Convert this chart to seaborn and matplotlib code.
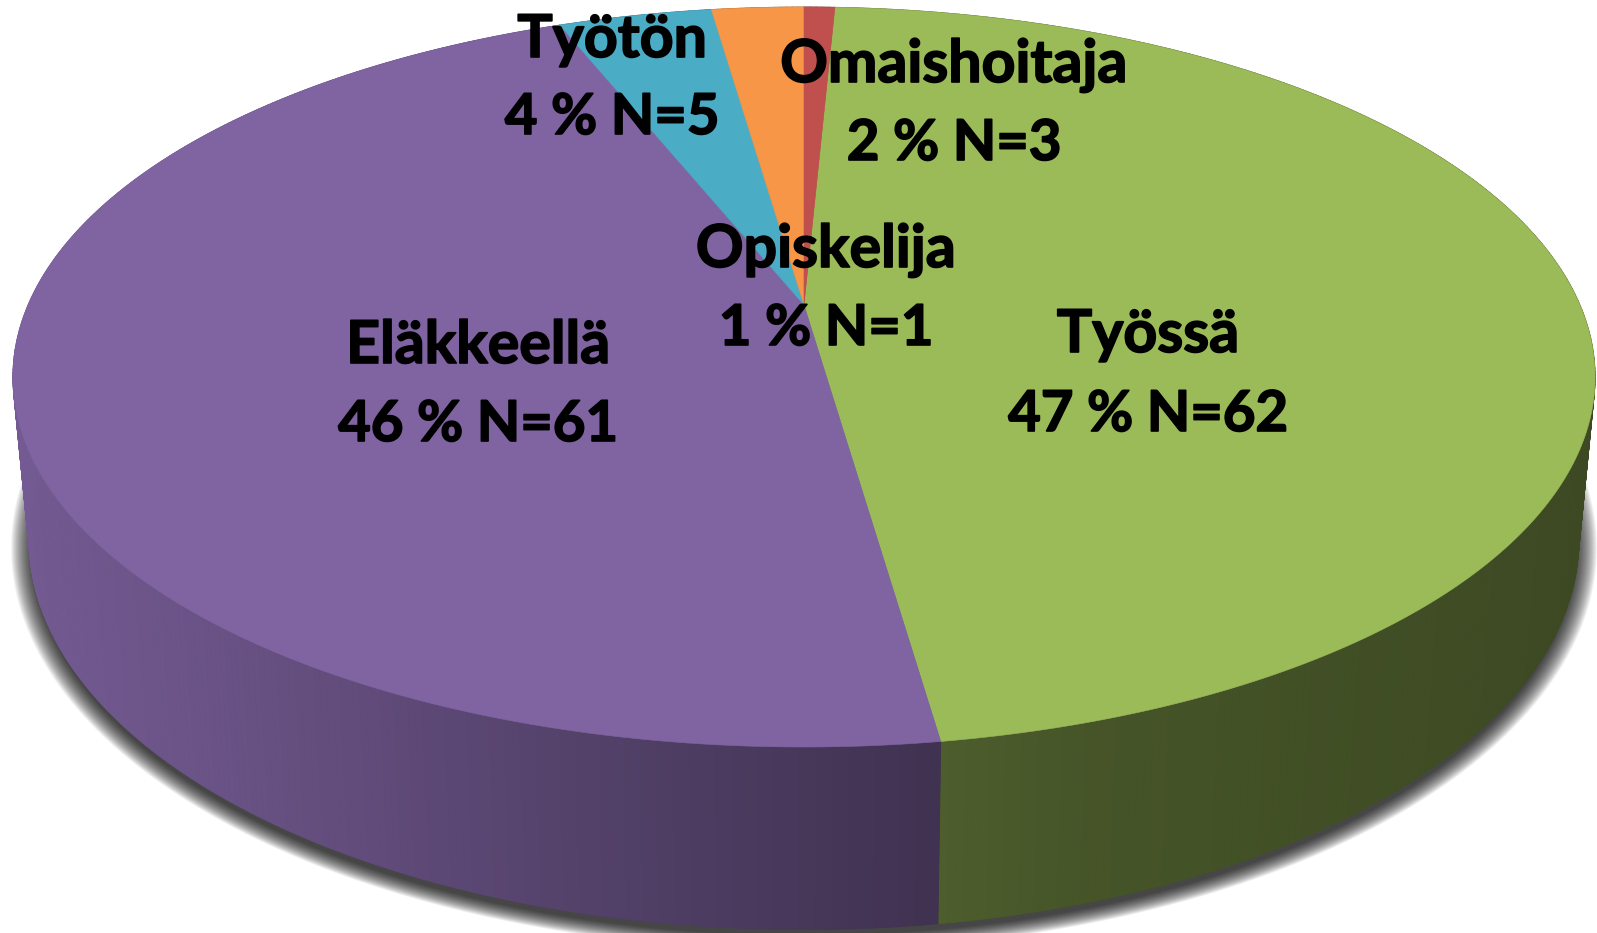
#Perspective pie chart with a side wall, drawn on a pixel sized axes
import numpy as np
import matplotlib
matplotlib.use('Agg')
import matplotlib.pyplot as plt
import matplotlib.patheffects as pe
from matplotlib.collections import PolyCollection
import seaborn as sns

categories = ['Työssä', 'Eläkkeellä', 'Työtön', 'Omaishoitaja', 'Opiskelija']
counts = [62, 61, 5, 3, 1]
colors = ['#9BBB59', '#8064A2', '#4BACC6', '#F79646', '#C0504D']
start_angle = 360 * counts[-1] / sum(counts)  #clockwise from top, first slice comes after the red one

#label baselines: name line, value line
label_pos = {
  'Työssä': (1148, 352, 431),
  'Eläkkeellä': (478, 363, 441),
  'Työtön': (612, 57, 134),
  'Omaishoitaja': (954, 82, 160),
  'Opiskelija': (826, 267, 345),
}

#perspective of the disc
cx = 804
k = 0.1946
top_face = dict(A=776, B=356, y0=305)
low_face = dict(A=760, B=375, y0=464)

#how dark the wall gets from left to right
shade_x = [30, 200, 700, 930, 1100, 1600]
shade_f = [0.90, 0.83, 0.60, 0.50, 0.45, 0.39]


def project(deg, face):
  t = np.radians(deg)
  u, v = np.sin(t), np.cos(t)
  d = 1 + k * v
  return cx + face['A'] * u / d, face['y0'] - face['B'] * v / d


sns.set_theme(style='white')
plt.rcParams['font.family'] = ['Lato', 'DejaVu Sans']
palette = sns.color_palette(colors)

fig = plt.figure(figsize=(15.97, 9.33), dpi=100)
ax = fig.add_axes([0, 0, 1, 1])
ax.set_xlim(0, 1597)
ax.set_ylim(933, 0)
ax.axis('off')

#soft shadow, nested ellipses behind the wall
tt = np.linspace(0, 2 * np.pi, 300)
for grow in np.arange(18, -5, -1):
  ax.fill(cx + (775 + grow) * np.cos(tt), 548 + (390 + grow * 0.7) * np.sin(tt),
          color='black', alpha=0.05, lw=0, zorder=1)

#wall, one thin strip per step so the shade can change with x
angle = start_angle
for n, col in zip(counts, palette):
  sweep = 360 * n / sum(counts)
  steps = max(2, int(sweep * 2))
  edges = np.linspace(angle, angle + sweep, steps + 1)
  polys, fc = [], []
  for a0, a1 in zip(edges[:-1], edges[1:]):
    x0, y0 = project(a0, top_face)
    x1, y1 = project(a1, top_face)
    x2, y2 = project(a1, low_face)
    x3, y3 = project(a0, low_face)
    polys.append([(x0, y0), (x1, y1), (x2, y2), (x3, y3)])
    f = np.interp((x0 + x1 + x2 + x3) / 4, shade_x, shade_f)
    fc.append(tuple(np.array(col) * f))
  ax.add_collection(PolyCollection(polys, facecolors=fc, edgecolors=fc, linewidths=0.6, zorder=2))
  angle += sweep

#top face
angle = start_angle
for n, col in zip(counts, palette):
  sweep = 360 * n / sum(counts)
  x, y = project(np.linspace(angle, angle + sweep, max(3, int(sweep * 2))), top_face)
  ax.fill(np.r_[cx, x], np.r_[top_face['y0'], y], color=col, lw=0.4, ec=col, zorder=3)
  angle += sweep

#the original font is heavier than Lato Bold, a thin stroke makes up for it
heavy = [pe.withStroke(linewidth=1.2, foreground='black')]
for name, n in zip(categories, counts):
  x, y1, y2 = label_pos[name]
  pct = round(100 * n / sum(counts))
  ax.text(x, y1, name, ha='center', va='baseline', fontsize=42.5, fontweight='bold', color='black', zorder=4, path_effects=heavy)
  ax.text(x, y2, f'{pct} % N={n}', ha='center', va='baseline', fontsize=40.5, fontweight='bold', color='black', zorder=4, path_effects=heavy)

fig.savefig('out.png', dpi=100)
